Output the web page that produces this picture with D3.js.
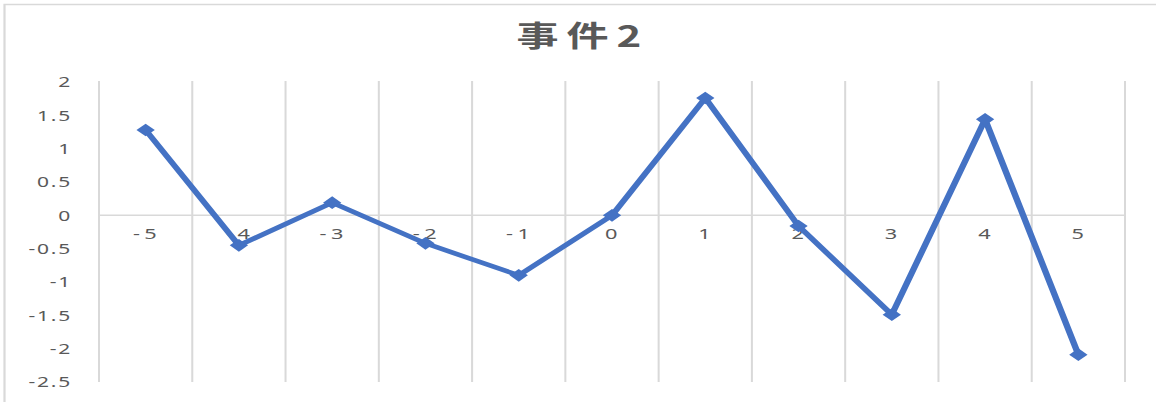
<!DOCTYPE html>
<html>
<head>
<meta charset="utf-8">
<script src="https://cdn.jsdelivr.net/npm/d3@7"></script>
<style>
	body { margin: 0; background: #fff; }
	svg { display: block; }
</style>
</head>
<body>
<svg id="chart" width="1156" height="402"></svg>
<script>
var categories = ["-5", "-4", "-3", "-2", "-1", "0", "1", "2", "3", "4", "5"];
var values = [1.28, -0.45, 0.19, -0.42, -0.90, 0.00, 1.76, -0.16, -1.49, 1.44, -2.09];
var yTicks = [2, 1.5, 1, 0.5, 0, -0.5, -1, -1.5, -2, -2.5];
var title = "事件2";

drawChart();

function drawChart() {
	var svg = d3.select("#chart");
	// the picture is stretched sideways, so everything is drawn narrow and scaled
	var sx = 1.45;

	var g = svg.append("g")
		.attr("transform", "scale(" + sx + ",1)");

	var x = d3.scaleBand()
		.domain(categories)
		.range([99 / sx, 1125 / sx])
		.padding(0);

	var y = d3.scaleLinear()
		.domain([-2.5, 2])
		.range([382, 82]);

	// chart border (cropped on the right and bottom)
	g.append("rect")
		.attr("x", 4.5 / sx)
		.attr("y", 4.5)
		.attr("width", 1300 / sx)
		.attr("height", 500)
		.attr("fill", "none")
		.attr("stroke", "#d9d9d9")
		.attr("stroke-width", 1.5);

	g.append("text")
		.attr("x", 583 / sx)
		.attr("y", 47)
		.attr("text-anchor", "middle")
		.attr("font-family", "'Noto Sans CJK SC', sans-serif")
		.attr("font-weight", "bold")
		.attr("font-size", 29)
		.attr("letter-spacing", 5.5)
		.attr("fill", "#595959")
		.text(title);

	var bounds = categories.map(function(c) { return x(c); }).concat([x.range()[1]]);

	g.append("g")
		.attr("class", "grid")
		.selectAll("line")
		.data(bounds)
		.enter().append("line")
			.attr("x1", function(d) { return d; })
			.attr("x2", function(d) { return d; })
			.attr("y1", y(2) - 1)
			.attr("y2", y(-2.5))
			.attr("stroke", "#d9d9d9")
			.attr("stroke-width", 1.4);

	// category axis at zero
	g.append("line")
		.attr("x1", x.range()[0])
		.attr("x2", x.range()[1])
		.attr("y1", y(0))
		.attr("y2", y(0))
		.attr("stroke", "#d9d9d9")
		.attr("stroke-width", 1.5);

	g.append("g")
		.attr("class", "y-labels")
		.selectAll("text")
		.data(yTicks)
		.enter().append("text")
			.attr("x", 72 / sx)
			.attr("y", function(d) { return y(d); })
			.attr("dy", "0.36em")
			.attr("text-anchor", "end")
			.attr("font-family", "'Noto Sans', sans-serif")
			.attr("font-size", 14.5)
			.attr("letter-spacing", 1.2)
			.attr("fill", "#595959")
			.text(function(d) { return d; });

	g.append("g")
		.attr("class", "x-labels")
		.selectAll("text")
		.data(categories)
		.enter().append("text")
			.attr("x", function(d) { return x(d) + x.bandwidth() / 2 + 1; })
			.attr("y", 239)
			.attr("text-anchor", "middle")
			.attr("font-family", "'Noto Sans', sans-serif")
			.attr("font-size", 15)
			.attr("letter-spacing", 3)
			.attr("fill", "#595959")
			.text(function(d) { return d; });

	var pts = categories.map(function(c, i) { return { cat: c, value: values[i] }; });

	var line = d3.line()
		.x(function(d) { return x(d.cat) + x.bandwidth() / 2; })
		.y(function(d) { return y(d.value); });

	g.append("path")
		.datum(pts)
		.attr("d", line)
		.attr("fill", "none")
		.attr("stroke", "#4472c4")
		.attr("stroke-width", 4.5)
		.attr("stroke-linejoin", "round");

	g.append("g")
		.attr("class", "markers")
		.selectAll("path")
		.data(pts)
		.enter().append("path")
			.attr("d", d3.symbol(d3.symbolSquare).size(80))
			.attr("transform", function(d) {
				return "translate(" + (x(d.cat) + x.bandwidth() / 2) + "," + y(d.value) + ") rotate(45)";
			})
			.attr("fill", "#4472c4");
}
</script>
</body>
</html>
